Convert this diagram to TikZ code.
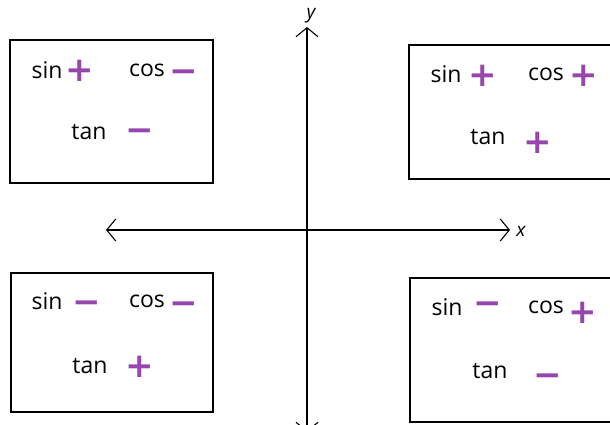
\documentclass[tikz,border=0pt]{standalone}
\usepackage{fontspec}
\setmainfont{Open Sans}
\newfontfamily\signfont{DejaVu Sans}
\usetikzlibrary{arrows.meta}
\definecolor{marker}{RGB}{150,70,172}
\tikzset{
    quadbox/.style={draw, line width=1.6pt},
    fname/.style={font=\fontsize{23}{27}\selectfont},
    sgn/.style={text=marker, font=\signfont\bfseries\fontsize{34}{36}\selectfont, inner sep=0pt, text height=23pt, text depth=0pt},
    axis/.style={line width=1.1pt, {Straight Barb[length=9pt,width=22pt,line width=1.1pt]}-{Straight Barb[length=9pt,width=22pt,line width=1.1pt]}}
}
\begin{document}
\begin{tikzpicture}[x=1pt, y=-1pt]
    \clip (0,0) rectangle (610,425);
    \fill[white] (0,0) rectangle (610,425);
    % Hệ trục tọa độ
    \coordinate (xl) at (106,230);
    \coordinate (xr) at (510,230);
    \coordinate (yb) at (307,432);
    \coordinate (yt) at (307,27);
    \draw[axis] (xl) -- (xr);
    \draw[axis] (yb) -- (yt);
    \node (xlab) at (521,231) {\fontsize{19}{22}\selectfont\itshape x};
    \node (ylab) at (311,16) {\fontsize{19}{22}\selectfont\itshape y};
    % Góc phần tư II
    \draw[quadbox] (10,40) rectangle (213,183);
    \node[fname] (sinII) at (47,70) {sin};
    \node[sgn] (sinIIs) at (80,70) {+};
    \node[fname] (cosII) at (147,70) {cos};
    \node[sgn] (cosIIs) at (184,71) {\char"2212};
    \node[fname] (tanII) at (89,132) {tan};
    \node[sgn] (tanIIs) at (140,130) {\char"2212};
    % Góc phần tư I
    \draw[quadbox] (409,45) rectangle (620,179);
    \node[fname] (sinI) at (446,74) {sin};
    \node[sgn] (sinIs) at (483,75) {+};
    \node[fname] (cosI) at (546,74) {cos};
    \node[sgn] (cosIs) at (584,75) {+};
    \node[fname] (tanI) at (488,137) {tan};
    \node[sgn] (tanIs) at (538,142) {+};
    % Góc phần tư III
    \draw[quadbox] (11,273) rectangle (213,412);
    \node[fname] (sinIII) at (47,301) {sin};
    \node[sgn] (sinIIIs) at (87,302) {\char"2212};
    \node[fname] (cosIII) at (147,301) {cos};
    \node[sgn] (cosIIIs) at (184,303) {\char"2212};
    \node[fname] (tanIII) at (90,366) {tan};
    \node[sgn] (tanIIIs) at (140,366) {+};
    % Góc phần tư IV
    \draw[quadbox] (410,278) rectangle (620,422);
    \node[fname] (sinIV) at (447,307) {sin};
    \node[sgn] (sinIVs) at (488,303) {\char"2212};
    \node[fname] (cosIV) at (546,307) {cos};
    \node[sgn] (cosIVs) at (583,312) {+};
    \node[fname] (tanIV) at (490,371) {tan};
    \node[sgn] (tanIVs) at (548,375) {\char"2212};
\end{tikzpicture}
\end{document}
